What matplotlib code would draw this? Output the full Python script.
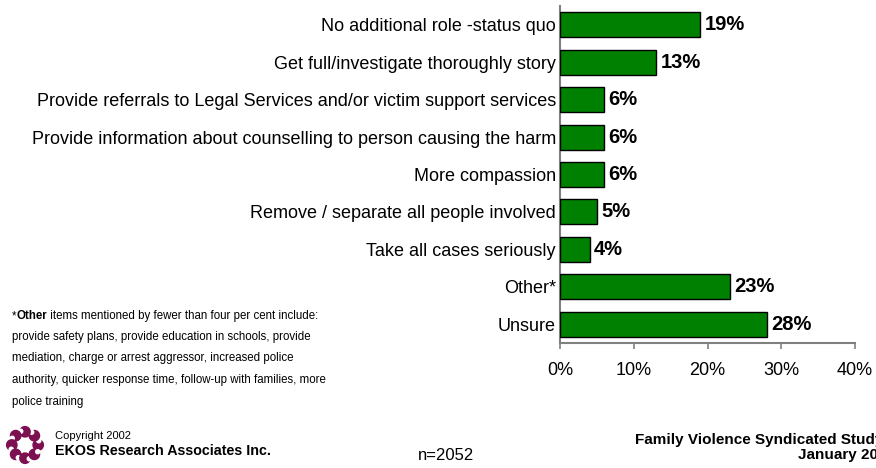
import matplotlib
matplotlib.use("Agg")
import matplotlib.pyplot as plt
import numpy as np

categories = [
    "No additional role -status quo",
    "Get full/investigate thoroughly story",
    "Provide referrals to Legal Services and/or victim support services",
    "Provide information about counselling to person causing the harm",
    "More compassion",
    "Remove / separate all people involved",
    "Take all cases seriously",
    "Other*",
    "Unsure",
]
values = [19, 13, 6, 6, 6, 5, 4, 23, 28]
xticks = [0, 10, 20, 30, 40]
xtick_labels = ["0%", "10%", "20%", "30%", "40%"]

plt.rcParams['font.family'] = ['Liberation Sans', 'DejaVu Sans']

W, H = 876, 468
fig = plt.figure(figsize=(W / 100, H / 100), dpi=100)
ax = fig.add_axes([560 / W, 1 - 343 / H, 295 / W, 337 / H])

n = len(categories)
ypos = list(range(n))
ax.barh(ypos, values, height=0.67, color="#008000", edgecolor="black", linewidth=1.0, zorder=3)
ax.set_ylim(n - 0.5, -0.5)
ax.set_xlim(0, 40)
ax.set_yticks(ypos)
ax.set_yticklabels(categories, fontsize=13)
ax.set_xticks(xticks)
ax.set_xticklabels(xtick_labels, fontsize=13)
ax.tick_params(axis='y', length=0, pad=3)
ax.tick_params(axis='x', length=4, direction='out', color='#808080', width=1.2, pad=10)
for s in ["top", "right"]:
    ax.spines[s].set_visible(False)
for s in ["left", "bottom"]:
    ax.spines[s].set_color("#808080")
    ax.spines[s].set_linewidth(1.5)

for y, v in zip(ypos, values):
    ax.text(v + 0.6, y, f"{v}%", va="center", ha="left", fontsize=14.5, fontweight="bold")

# footnote
fs = 8.3
t1 = fig.text(12 / W, 1 - 316 / H, "*", fontsize=fs, va="center", ha="left")
a2 = fig.add_artist(matplotlib.text.Annotation("Other", xy=(1, 0.5), xycoords=t1,
                                               va="center", ha="left", fontsize=fs,
                                               fontweight="bold"))
a3 = fig.add_artist(matplotlib.text.Annotation(" items mentioned by fewer than four per cent include:",
                                               xy=(1, 0.5), xycoords=a2, va="center",
                                               ha="left", fontsize=fs))
foot_lines = [
    "provide safety plans, provide education in schools, provide",
    "mediation, charge or arrest aggressor, increased police",
    "authority, quicker response time, follow-up with families, more",
    "police training",
]
for i, line in enumerate(foot_lines):
    fig.text(12 / W, 1 - (337 + 21.5 * i) / H, line, fontsize=fs, va="center", ha="left")

# logo (ring of swirls)
logo_ax = fig.add_axes([5 / W, 1 - 465 / H, 40 / W, 40 / H])
logo_ax.axis('off')
logo_ax.set_xlim(0, 1)
logo_ax.set_ylim(0, 1)
for k in range(8):
    a = 2 * np.pi * k / 8
    logo_ax.add_patch(plt.Circle((0.5 + 0.33 * np.cos(a), 0.5 + 0.33 * np.sin(a)), 0.13,
                                 color="#7d1050"))
    logo_ax.add_patch(plt.Circle((0.5 + 0.36 * np.cos(a + 0.3), 0.5 + 0.36 * np.sin(a + 0.3)), 0.05,
                                 color="white"))
logo_ax.add_patch(plt.Circle((0.5, 0.5), 0.16, color="white"))

fig.text(55 / W, 1 - 436 / H, "Copyright 2002", fontsize=8, va="center", ha="left")
fig.text(55 / W, 1 - 451 / H, "EKOS Research Associates Inc.", fontsize=10.3, va="center",
         ha="left", fontweight="bold")
fig.text(418 / W, 1 - 455 / H, "n=2052", fontsize=12, va="center", ha="left")
fig.text(635 / W, 1 - 440 / H, "Family Violence Syndicated Study", fontsize=11,
         va="center", ha="left", fontweight="bold")
fig.text(846 / W, 1 - 455 / H, "January 2002", fontsize=11, va="center", ha="center",
         fontweight="bold")

fig.savefig("out.png", dpi=100)
